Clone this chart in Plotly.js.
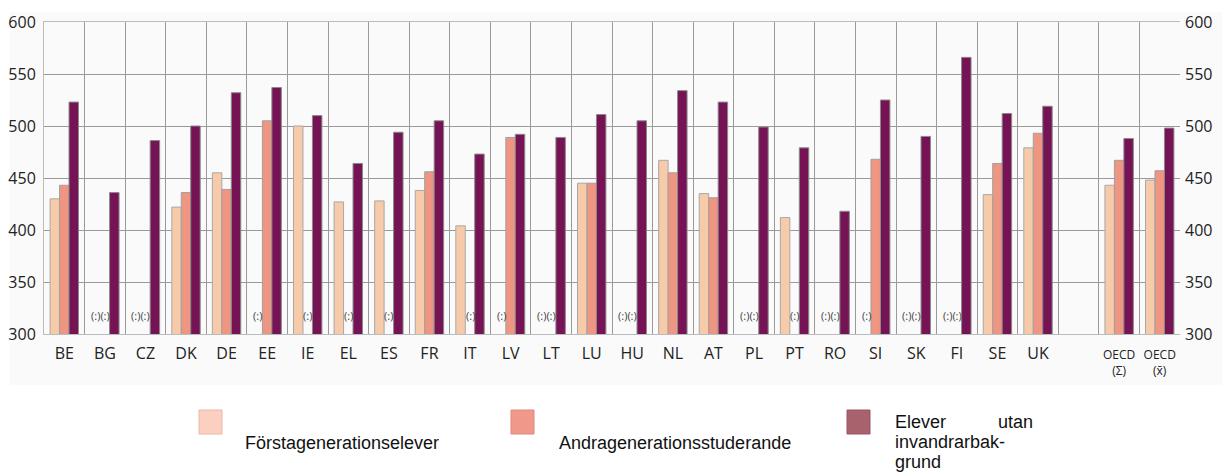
<!DOCTYPE html>
<html><head><meta charset="utf-8">
<script src="https://cdn.plot.ly/plotly-3.0.1.min.js"></script>
<style>html,body{margin:0;padding:0;background:#fff}#c{width:1222px;height:473px}</style>
</head><body><div id="c"></div>
<script>
const categories = ["BE","BG","CZ","DK","DE","EE","IE","EL","ES","FR","IT","LV","LT","LU","HU","NL","AT","PL","PT","RO","SI","SK","FI","SE","UK"," ","OECD<br>(Σ)","OECD<br>(x̄)"];
const firstGen  = [430,null,null,422,455,null,500,427,428,438,404,null,null,445,null,467,435,null,412,null,null,null,null,434,479,null,443,448];
const secondGen = [443,null,null,436,439,505,null,null,null,456,null,489,null,445,null,455,431,null,null,null,468,null,null,464,493,null,467,457];
const native    = [523,436,486,500,532,537,510,464,494,505,473,492,489,511,505,534,523,499,479,418,525,490,566,512,519,null,488,498];
const seriesNames = ["Förstagenerationselever","Andragenerationsstuderande","Elever utan invandrarbakgrund"];
const missingLabel = "(:)";

const barColors = ["#f7caa9","#ee9681","#751355"];
const legendColors = ["#fbd0c0","#f0988a","#a8626e"];

const traces = [
  {type:"bar", x:categories, y:firstGen, name:seriesNames[0], marker:{color:barColors[0], line:{color:"#a8a8a8",width:1}}, showlegend:false},
  {type:"bar", x:categories, y:secondGen, name:seriesNames[1], marker:{color:barColors[1], line:{color:"#a0a0a0",width:1}}, showlegend:false},
  {type:"bar", x:categories, y:native, name:seriesNames[2], marker:{color:barColors[2], line:{color:"#8a8a8a",width:1}}, showlegend:false},
  {type:"scatter", mode:"markers", x:[categories[0]], y:[null], yaxis:"y2", showlegend:false, hoverinfo:"skip"}
];

// missing data markers
const annotations = [];
const slotW = 1136/28, barW = slotW*0.7/3;
categories.forEach((c,i)=>{
  if (c.trim()==="") return;
  const m1 = firstGen[i]===null, m2 = secondGen[i]===null;
  const base = {x:i, y:318, xref:"x", yref:"y", showarrow:false, font:{family:"Open Sans", size:11, color:"#444"}};
  if (m1 && m2) annotations.push(Object.assign({}, base, {text:missingLabel+missingLabel, xshift:-barW/2}));
  else if (m1) annotations.push(Object.assign({}, base, {text:missingLabel, xshift:-barW}));
  else if (m2) annotations.push(Object.assign({}, base, {text:missingLabel, xshift:0}));
});

// custom legend
const pw = 1136, ph = 312;
const px = v => (v-44)/pw, py = v => (334-v)/ph;
const shapes = [
  {type:"rect", xref:"paper", yref:"paper", x0:px(10), x1:px(1222), y0:py(385), y1:py(12), fillcolor:"#fafafa", line:{width:0}, layer:"below"},
  {type:"rect", xref:"paper", yref:"paper", x0:px(199), x1:px(222), y0:py(434), y1:py(410), fillcolor:legendColors[0], line:{color:"#e8b8a8",width:1}},
  {type:"rect", xref:"paper", yref:"paper", x0:px(511), x1:px(534), y0:py(434), y1:py(410), fillcolor:legendColors[1], line:{color:"#e0887a",width:1}},
  {type:"rect", xref:"paper", yref:"paper", x0:px(847), x1:px(870), y0:py(434), y1:py(410), fillcolor:legendColors[2], line:{color:"#9a5560",width:1}}
];
const lf = {family:"Liberation Sans, Arial", size:18, color:"#111"};
annotations.push(
  {xref:"paper", yref:"paper", x:px(243), y:py(443), xanchor:"left", yanchor:"middle", text:seriesNames[0], showarrow:false, font:lf},
  {xref:"paper", yref:"paper", x:px(557), y:py(443), xanchor:"left", yanchor:"middle", text:seriesNames[1], showarrow:false, font:lf},
  {xref:"paper", yref:"paper", x:px(893), y:py(422), xanchor:"left", yanchor:"middle", text:"Elever", showarrow:false, font:lf},
  {xref:"paper", yref:"paper", x:px(1035), y:py(422), xanchor:"right", yanchor:"middle", text:"utan", showarrow:false, font:lf},
  {xref:"paper", yref:"paper", x:px(893), y:py(442), xanchor:"left", yanchor:"middle", text:"invandrarbak-", showarrow:false, font:lf},
  {xref:"paper", yref:"paper", x:px(893), y:py(462), xanchor:"left", yanchor:"middle", text:"grund", showarrow:false, font:lf}
);

const tf = {family:"Open Sans", size:16, color:"#222"};
const layout = {
  width:1222, height:473,
  margin:{l:44, r:42, t:22, b:139, pad:0},
  paper_bgcolor:"#ffffff", plot_bgcolor:"#fcfcfc",
  barmode:"group", bargap:0.3, bargroupgap:0,
  showlegend:false,
  xaxis:{type:"category", categoryorder:"array", categoryarray:categories, range:[-0.5, categories.length-0.5],
         tickson:"boundaries", showgrid:true, gridcolor:"#9a9a9a", gridwidth:1, ticklabelstandoff:5,
         ticks:"", tickfont:tf, showline:true, linecolor:"#bbbbbb", mirror:true, tickangle:0, fixedrange:true},
  yaxis:{range:[300,600], dtick:50, showgrid:true, gridcolor:"#9a9a9a", ticks:"", tickfont:tf,
         showline:true, linecolor:"#bbbbbb", zeroline:false, ticklabelstandoff:4},
  yaxis2:{range:[300,600], dtick:50, overlaying:"y", side:"right", showgrid:false, ticks:"", tickfont:tf, zeroline:false, ticklabelstandoff:4},
  annotations:annotations, shapes:shapes
};
Plotly.newPlot("c", traces, layout, {displayModeBar:false, staticPlot:true}).then(()=>{
  document.querySelectorAll(".xtick text").forEach(t=>{
    if (t.textContent.indexOf("OECD")===0) { t.style.fontSize="12px"; }
  });
});
</script></body></html>
